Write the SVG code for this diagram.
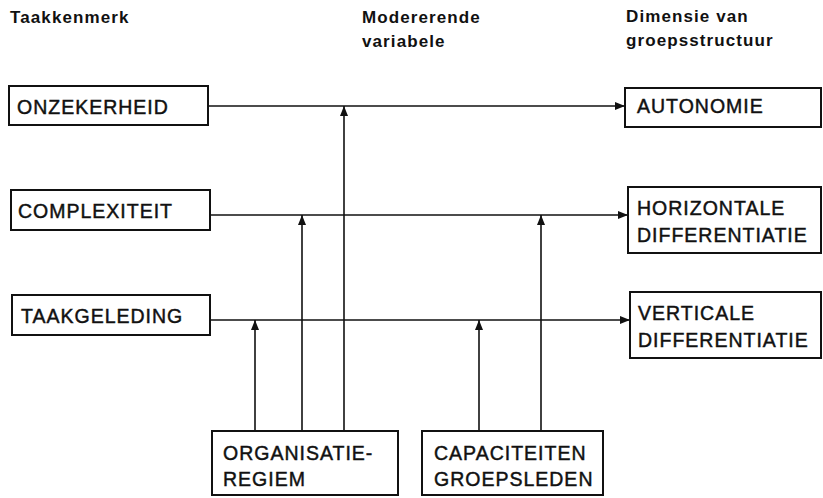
<svg xmlns="http://www.w3.org/2000/svg" width="823" height="498" viewBox="0 0 823 498">
<style>
.hdr{font-family:"Liberation Sans",Arial,sans-serif;font-weight:bold;font-size:17px;fill:#111;letter-spacing:1.1px}
.box{fill:#fff;stroke:#111;stroke-width:2}
.lbl{font-family:"Liberation Sans",Arial,sans-serif;font-size:19.5px;fill:#111;stroke:#111;stroke-width:0.45px;letter-spacing:1px}
.ln{stroke:#111;stroke-width:1.6;fill:none}
</style>
<defs>
<marker id="ah" viewBox="0 0 10 8" refX="10" refY="4" markerWidth="10" markerHeight="8" markerUnits="userSpaceOnUse" orient="auto">
<path d="M0,0 L10,4 L0,8 Z" fill="#111"/>
</marker>
</defs>
<rect width="823" height="498" fill="#fff"/>
<g id="headers">
<text class="hdr" x="10" y="23">Taakkenmerk</text>
<text class="hdr" x="362" y="23">Modererende</text>
<text class="hdr" x="362" y="47">variabele</text>
<text class="hdr" x="626" y="22">Dimensie van</text>
<text class="hdr" x="626" y="46">groepsstructuur</text>
</g>
<g id="connectors">
<line class="ln" x1="208" y1="106" x2="625" y2="106" marker-end="url(#ah)"/>
<line class="ln" x1="210" y1="215" x2="628" y2="215" marker-end="url(#ah)"/>
<line class="ln" x1="210" y1="320" x2="630" y2="320" marker-end="url(#ah)"/>
<line class="ln" x1="255" y1="431" x2="255" y2="320" marker-end="url(#ah)"/>
<line class="ln" x1="302" y1="431" x2="302" y2="215" marker-end="url(#ah)"/>
<line class="ln" x1="344" y1="431" x2="344" y2="106" marker-end="url(#ah)"/>
<line class="ln" x1="479" y1="431" x2="479" y2="320" marker-end="url(#ah)"/>
<line class="ln" x1="541" y1="431" x2="541" y2="215" marker-end="url(#ah)"/>
</g>
<g id="onzekerheid">
<rect class="box" x="9" y="86" width="199" height="39"/>
<text class="lbl" x="17" y="114">ONZEKERHEID</text>
</g>
<g id="complexiteit">
<rect class="box" x="11" y="190" width="199" height="40"/>
<text class="lbl" x="18" y="218">COMPLEXITEIT</text>
</g>
<g id="taakgeleding">
<rect class="box" x="12" y="295" width="198" height="40"/>
<text class="lbl" x="21" y="323">TAAKGELEDING</text>
</g>
<g id="autonomie">
<rect class="box" x="625" y="88" width="196" height="39"/>
<text class="lbl" x="637" y="113">AUTONOMIE</text>
</g>
<g id="horizontale">
<rect class="box" x="628" y="187" width="193" height="66"/>
<text class="lbl" x="637" y="215">HORIZONTALE</text>
<text class="lbl" x="637" y="242">DIFFERENTIATIE</text>
</g>
<g id="verticale">
<rect class="box" x="630" y="292" width="191" height="66"/>
<text class="lbl" x="638" y="320">VERTICALE</text>
<text class="lbl" x="638" y="347">DIFFERENTIATIE</text>
</g>
<g id="organisatie">
<rect class="box" x="212" y="431" width="186" height="64"/>
<text class="lbl" x="223" y="460">ORGANISATIE-</text>
<text class="lbl" x="223" y="486">REGIEM</text>
</g>
<g id="capaciteiten">
<rect class="box" x="422" y="431" width="181" height="64"/>
<text class="lbl" x="434" y="460">CAPACITEITEN</text>
<text class="lbl" x="434" y="486">GROEPSLEDEN</text>
</g>
</svg>
